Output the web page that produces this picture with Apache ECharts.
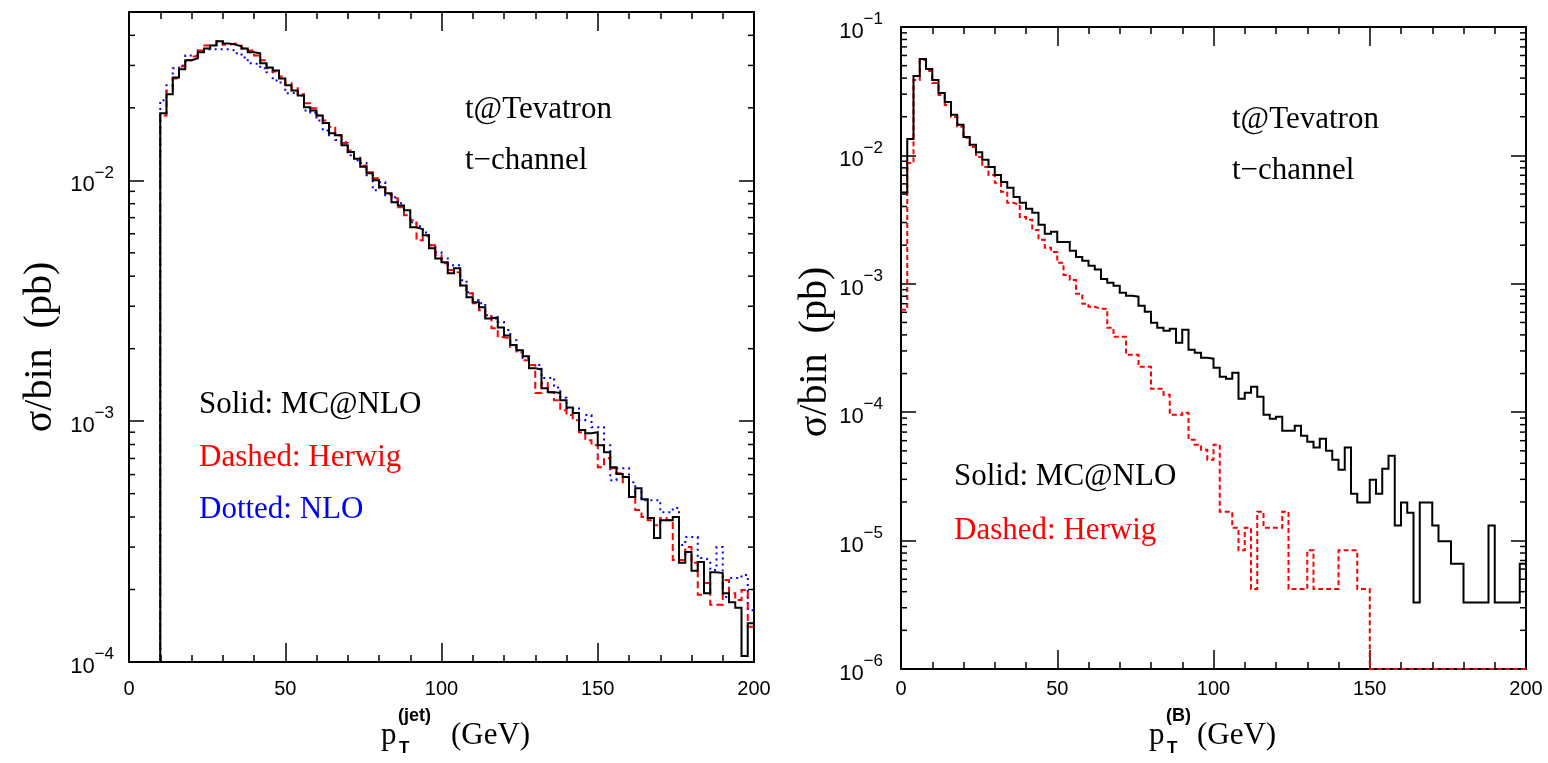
<!DOCTYPE html>
<html>
<head>
<meta charset="utf-8">
<script src="https://cdn.jsdelivr.net/npm/echarts@6/dist/echarts.min.js"></script>
<style>
html,body{margin:0;padding:0;background:#ffffff;}
#main{width:1548px;height:763px;}
</style>
</head>
<body>
<div id="main"></div>
<script>
// ---------- data: sigma per 2 GeV bin (pb) ----------
const BIN_WIDTH = 2;

// Left panel: jet transverse momentum, bins start at 10 GeV
const jetBinStart = 10;
const jetMCatNLO = [
  1.90e-2, 2.28e-2, 2.67e-2, 2.89e-2, 3.15e-2, 3.21e-2, 3.40e-2, 3.53e-2, 3.63e-2, 3.78e-2,
  3.70e-2, 3.66e-2, 3.60e-2, 3.53e-2, 3.40e-2, 3.37e-2, 3.06e-2, 2.94e-2, 2.86e-2, 2.65e-2,
  2.48e-2, 2.36e-2, 2.25e-2, 2.01e-2, 1.95e-2, 1.86e-2, 1.73e-2, 1.57e-2, 1.54e-2, 1.40e-2,
  1.31e-2, 1.23e-2, 1.14e-2, 1.07e-2, 1.00e-2, 9.35e-3, 8.83e-3, 8.11e-3, 7.87e-3, 7.51e-3,
  6.38e-3, 6.27e-3, 5.92e-3, 5.22e-3, 4.74e-3, 4.57e-3, 4.11e-3, 4.31e-3, 3.66e-3, 3.27e-3,
  3.12e-3, 2.97e-3, 2.67e-3, 2.70e-3, 2.45e-3, 2.27e-3, 2.07e-3, 1.97e-3, 1.86e-3, 1.66e-3,
  1.64e-3, 1.37e-3, 1.32e-3, 1.31e-3, 1.22e-3, 1.14e-3, 1.08e-3, 9.18e-4, 8.91e-4, 9.00e-4,
  7.94e-4, 7.43e-4, 6.44e-4, 6.03e-4, 5.86e-4, 4.84e-4, 5.27e-4, 4.74e-4, 3.96e-4, 3.27e-4,
  3.88e-4, 3.88e-4, 4.00e-4, 2.58e-4, 2.86e-4, 2.39e-4, 2.60e-4, 1.93e-4, 2.36e-4, 2.34e-4,
  1.93e-4, 1.77e-4, 1.68e-4, 1.06e-4, 1.45e-4
];
const jetHerwig = [
  1.86e-2, 2.36e-2, 2.65e-2, 2.97e-2, 3.15e-2, 3.27e-2, 3.46e-2, 3.63e-2, 3.66e-2, 3.78e-2,
  3.66e-2, 3.70e-2, 3.63e-2, 3.53e-2, 3.46e-2, 3.30e-2, 3.15e-2, 2.92e-2, 2.83e-2, 2.70e-2,
  2.53e-2, 2.41e-2, 2.28e-2, 2.09e-2, 1.99e-2, 1.86e-2, 1.77e-2, 1.67e-2, 1.54e-2, 1.43e-2,
  1.33e-2, 1.24e-2, 1.15e-2, 1.08e-2, 1.02e-2, 9.44e-3, 8.75e-3, 8.42e-3, 7.73e-3, 7.16e-3,
  6.82e-3, 5.64e-3, 5.86e-3, 5.37e-3, 4.89e-3, 4.53e-3, 4.24e-3, 4.15e-3, 3.66e-3, 3.40e-3,
  3.09e-3, 2.89e-3, 2.73e-3, 2.43e-3, 2.23e-3, 2.21e-3, 2.03e-3, 1.93e-3, 1.79e-3, 1.71e-3,
  1.31e-3, 1.44e-3, 1.32e-3, 1.22e-3, 1.11e-3, 1.06e-3, 1.01e-3, 9.00e-4, 8.34e-4, 7.94e-4,
  6.44e-4, 7.02e-4, 6.38e-4, 6.08e-4, 5.58e-4, 4.84e-4, 4.28e-4, 4.00e-4, 3.88e-4, 3.70e-4,
  3.96e-4, 3.88e-4, 2.65e-4, 2.65e-4, 3.00e-4, 2.58e-4, 1.90e-4, 2.13e-4, 1.73e-4, 1.73e-4,
  2.19e-4, 1.93e-4, 1.81e-4, 1.99e-4, 1.40e-4
];
const jetNLO = [
  2.15e-2, 2.48e-2, 2.92e-2, 3.00e-2, 3.30e-2, 3.30e-2, 3.46e-2, 3.50e-2, 3.50e-2, 3.50e-2,
  3.50e-2, 3.46e-2, 3.37e-2, 3.24e-2, 3.06e-2, 3.03e-2, 2.92e-2, 2.81e-2, 2.60e-2, 2.55e-2,
  2.30e-2, 2.32e-2, 2.25e-2, 1.95e-2, 1.91e-2, 1.77e-2, 1.61e-2, 1.54e-2, 1.47e-2, 1.44e-2,
  1.27e-2, 1.21e-2, 1.18e-2, 1.05e-2, 9.10e-3, 9.81e-3, 8.67e-3, 8.50e-3, 8.03e-3, 7.37e-3,
  6.70e-3, 6.44e-3, 6.08e-3, 5.37e-3, 5.03e-3, 4.74e-3, 4.44e-3, 4.44e-3, 3.85e-3, 3.43e-3,
  3.18e-3, 3.09e-3, 2.75e-3, 2.67e-3, 2.58e-3, 2.39e-3, 2.17e-3, 1.97e-3, 1.83e-3, 1.71e-3,
  1.71e-3, 1.51e-3, 1.52e-3, 1.38e-3, 1.25e-3, 1.13e-3, 1.13e-3, 1.01e-3, 1.06e-3, 9.44e-4,
  9.44e-4, 7.94e-4, 5.69e-4, 6.38e-4, 6.38e-4, 5.58e-4, 5.07e-4, 4.70e-4, 4.70e-4, 4.70e-4,
  4.19e-4, 4.19e-4, 4.36e-4, 3.06e-4, 3.30e-4, 3.30e-4, 2.70e-4, 2.65e-4, 2.41e-4, 3.00e-4,
  1.86e-4, 2.23e-4, 2.23e-4, 2.30e-4, 1.64e-4
];

// Right panel: B-hadron transverse momentum, bins start at 0 GeV
const bBinStart = 0;
const bMCatNLO = [
  5.13e-3, 1.34e-2, 4.16e-2, 5.64e-2, 4.71e-2, 3.87e-2, 3.06e-2, 2.61e-2, 2.07e-2, 1.73e-2,
  1.39e-2, 1.21e-2, 1.06e-2, 9.23e-3, 8.14e-3, 7.05e-3, 6.22e-3, 5.59e-3, 4.75e-3, 4.27e-3,
  3.84e-3, 3.57e-3, 2.88e-3, 2.45e-3, 2.54e-3, 2.12e-3, 2.12e-3, 1.81e-3, 1.62e-3, 1.51e-3,
  1.38e-3, 1.29e-3, 1.09e-3, 1.02e-3, 9.65e-4, 8.51e-4, 8.06e-4, 7.93e-4, 6.74e-4, 6.05e-4,
  4.97e-4, 4.54e-4, 4.31e-4, 4.47e-4, 3.47e-4, 4.39e-4, 3.07e-4, 2.90e-4, 2.66e-4, 2.61e-4,
  2.22e-4, 1.89e-4, 1.82e-4, 2.03e-4, 1.27e-4, 1.42e-4, 1.58e-4, 1.32e-4, 9.56e-5, 8.90e-5,
  9.23e-5, 7.18e-5, 7.18e-5, 7.85e-5, 6.56e-5, 5.89e-5, 5.30e-5, 6.22e-5, 5.02e-5, 4.27e-5,
  3.57e-5, 5.30e-5, 2.32e-5, 1.98e-5, 1.98e-5, 2.98e-5, 2.32e-5, 3.63e-5, 4.58e-5, 1.31e-5,
  1.98e-5, 1.65e-5, 3.3e-6, 1.98e-5, 1.98e-5, 1.31e-5, 9.9e-6, 9.9e-6, 6.6e-6, 6.6e-6,
  3.3e-6, 3.3e-6, 3.3e-6, 3.3e-6, 1.31e-5, 3.3e-6, 3.3e-6, 3.3e-6, 3.3e-6, 6.6e-6
];
const bHerwig = [
  6.28e-4, 8.74e-3, 3.87e-2, 5.54e-2, 4.55e-2, 3.67e-2, 2.96e-2, 2.47e-2, 1.99e-2, 1.67e-2,
  1.37e-2, 1.16e-2, 9.73e-3, 8.14e-3, 7.05e-3, 6.11e-3, 5.20e-3, 4.27e-3, 4.12e-3, 3.32e-3,
  3.15e-3, 2.63e-3, 2.20e-3, 1.91e-3, 1.77e-3, 1.46e-3, 1.17e-3, 1.07e-3, 8.36e-4, 6.99e-4,
  6.62e-4, 6.39e-4, 6.39e-4, 4.54e-4, 3.87e-4, 3.87e-4, 2.80e-4, 2.80e-4, 2.26e-4, 2.26e-4,
  1.52e-4, 1.52e-4, 1.37e-4, 9.56e-5, 9.56e-5, 9.91e-5, 6.11e-5, 5.59e-5, 5.11e-5, 4.27e-5,
  5.59e-5, 1.68e-5, 1.68e-5, 1.26e-5, 8.4e-6, 1.26e-5, 4.2e-6, 1.68e-5, 1.26e-5, 1.26e-5,
  1.26e-5, 1.68e-5, 4.2e-6, 4.2e-6, 4.2e-6, 8.4e-6, 4.2e-6, 4.2e-6, 4.2e-6, 4.2e-6,
  8.4e-6, 8.4e-6, 8.4e-6, 4.2e-6, 4.2e-6, 0, 0, 0, 0, 0,
  0, 0, 0, 0, 0, 0, 0, 0, 0, 0,
  0, 0, 0, 0, 0, 0, 0, 0, 0, 0
];

// axis ranges and tick labels
const xRange = [0, 200];
const xTickStep = 50;
const jetYRange = [1e-4, 5e-2];
const bYRange = [1e-6, 1e-1];

// ---------- helpers ----------
// histogram outline: horizontal top of every bin joined by vertical edges
function histogramPath(start, values, floor, dropAtStart) {
  const pts = [];
  if (dropAtStart) pts.push([start, floor]);
  values.forEach(function (v, i) {
    const lo = start + i * BIN_WIDTH;
    const y = Math.max(v, floor);
    pts.push([lo, y], [lo + BIN_WIDTH, y]);
  });
  return pts;
}

// logarithmic minor tick values 2..9 x 10^n inside a range
function logMinorTicks(range) {
  const out = [];
  const e0 = Math.floor(Math.log10(range[0]));
  const e1 = Math.ceil(Math.log10(range[1]));
  for (let e = e0; e < e1; e++) {
    for (let m = 2; m <= 9; m++) {
      const v = m * Math.pow(10, e);
      if (v > range[0] * 1.0001 && v < range[1] * 0.9999) out.push([0, v]);
    }
  }
  return out;
}

function powerLabel(v) {
  const e = Math.round(Math.log10(v));
  if (Math.abs(v / Math.pow(10, e) - 1) > 1e-6) return '';
  return '{b|10}{s|' + (e < 0 ? '\u2212' : '') + Math.abs(e) + '}';
}

const FRAME = '#000000';
const SANS = 'Liberation Sans';
const SERIF = 'Liberation Serif';

function xAxisDef(grid, pos, showLabels, margin) {
  return {
    type: 'value', gridIndex: grid, position: pos,
    min: xRange[0], max: xRange[1], interval: xTickStep,
    axisLine: { show: true, onZero: false, lineStyle: { color: FRAME, width: 2 } },
    axisTick: { show: true, inside: true, length: 19, lineStyle: { color: FRAME, width: 1.5 } },
    minorTick: { show: true, splitNumber: 5, length: 7, lineStyle: { color: FRAME, width: 1.5 } },
    splitLine: { show: false },
    axisLabel: {
      show: showLabels, margin: margin, color: '#000',
      fontFamily: SANS, fontSize: 20
    }
  };
}

function yAxisDef(grid, pos, range, showLabels, margin) {
  return {
    type: 'log', logBase: 10, gridIndex: grid, position: pos,
    min: range[0], max: range[1],
    axisLine: { show: true, onZero: false, lineStyle: { color: FRAME, width: 2 } },
    axisTick: { show: true, inside: true, length: 15, lineStyle: { color: FRAME, width: 1.5 } },
    minorTick: { show: false },
    splitLine: { show: false },
    axisLabel: {
      show: showLabels, margin: margin, color: '#000',
      formatter: powerLabel,
      rich: {
        b: { fontFamily: SANS, fontSize: 22, color: '#000', lineHeight: 32, verticalAlign: 'bottom' },
        s: { fontFamily: SANS, fontSize: 17, color: '#000', lineHeight: 17, verticalAlign: 'top' }
      }
    }
  };
}

function minorTickSeries(xi, yi, range) {
  return {
    type: 'custom', xAxisIndex: xi, yAxisIndex: yi, silent: true, z: 5,
    data: logMinorTicks(range),
    renderItem: function (params, api) {
      const v = api.value(1);
      const a = api.coord([xRange[0], v]);
      const b = api.coord([xRange[1], v]);
      const len = 6;
      return {
        type: 'group',
        children: [
          { type: 'line', shape: { x1: a[0], y1: a[1], x2: a[0] + len, y2: a[1] },
            style: { stroke: FRAME, lineWidth: 1.5 } },
          { type: 'line', shape: { x1: b[0] - len, y1: b[1], x2: b[0], y2: b[1] },
            style: { stroke: FRAME, lineWidth: 1.5 } }
        ]
      };
    }
  };
}

function histSeries(name, xi, yi, pts, color, dash, width) {
  return {
    name: name, type: 'line', xAxisIndex: xi, yAxisIndex: yi,
    data: pts, showSymbol: false, symbol: 'none', clip: false,
    lineStyle: { color: color, width: width, type: dash, cap: 'butt', join: 'miter' },
    z: 3
  };
}

function txt(x, y, text, font, color, align, rot) {
  return {
    type: 'text', x: x, y: y, rotation: rot || 0, silent: true,
    style: {
      text: text, font: font, fill: color || '#000',
      align: align || 'left', textAlign: align || 'left',
      verticalAlign: 'middle', textVerticalAlign: 'middle'
    }
  };
}

// ---------- chart ----------
const chart = echarts.init(document.getElementById('main'));

const textFont = '31px ' + SERIF;
const titleFont = '40px ' + SERIF;
const xTitleFont = '31px ' + SERIF;
const supFont = 'bold 18px ' + SANS;
const subFont = 'bold 17px ' + SANS;

chart.setOption({
  animation: false,
  backgroundColor: '#ffffff',
  grid: [
    { left: 129, top: 12, width: 625, height: 650 },
    { left: 901, top: 27, width: 625, height: 642 }
  ],
  xAxis: [
    xAxisDef(0, 'bottom', true, 17),
    xAxisDef(0, 'top', false, 8),
    xAxisDef(1, 'bottom', true, 10),
    xAxisDef(1, 'top', false, 8)
  ],
  yAxis: [
    yAxisDef(0, 'left', jetYRange, true, 15),
    yAxisDef(0, 'right', jetYRange, false, 8),
    yAxisDef(1, 'left', bYRange, true, 18),
    yAxisDef(1, 'right', bYRange, false, 8)
  ],
  series: [
    histSeries('NLO', 0, 0, histogramPath(jetBinStart, jetNLO, jetYRange[0], true), '#0000ff', [2, 4], 2),
    histSeries('Herwig', 0, 0, histogramPath(jetBinStart, jetHerwig, jetYRange[0], true), '#ff0000', [7, 4], 2),
    histSeries('MC@NLO', 0, 0, histogramPath(jetBinStart, jetMCatNLO, jetYRange[0], true), '#000000', 'solid', 2),
    histSeries('Herwig B', 2, 2, histogramPath(bBinStart, bHerwig, bYRange[0], false), '#ff0000', [5, 3], 2),
    histSeries('MC@NLO B', 2, 2, histogramPath(bBinStart, bMCatNLO, bYRange[0], false), '#000000', 'solid', 2),
    minorTickSeries(0, 0, jetYRange),
    minorTickSeries(2, 2, bYRange)
  ],
  graphic: [
    // left panel annotations
    txt(465, 110, 't@Tevatron', textFont, '#000'),
    txt(465, 161, 't\u2212channel', textFont, '#000'),
    txt(199, 405, 'Solid: MC@NLO', textFont, '#000'),
    txt(199, 458, 'Dashed: Herwig', textFont, '#ff0000'),
    txt(199, 510, 'Dotted: NLO', textFont, '#0000ff'),
    // right panel annotations
    txt(1232, 120, 't@Tevatron', textFont, '#000'),
    txt(1232, 171, 't\u2212channel', textFont, '#000'),
    txt(954, 477, 'Solid: MC@NLO', textFont, '#000'),
    txt(954, 531, 'Dashed: Herwig', textFont, '#ff0000'),
    // y titles
    txt(40, 347, '\u03c3/bin  (pb)', titleFont, '#000', 'center', Math.PI / 2),
    txt(815, 352, '\u03c3/bin  (pb)', titleFont, '#000', 'center', Math.PI / 2),
    // x titles
    txt(381, 736, 'p', xTitleFont, '#000'),
    txt(398, 716, '(jet)', supFont, '#000'),
    txt(399, 748, 'T', subFont, '#000'),
    txt(451, 736, '(GeV)', xTitleFont, '#000'),
    txt(1149, 736, 'p', xTitleFont, '#000'),
    txt(1166, 716, '(B)', supFont, '#000'),
    txt(1167, 748, 'T', subFont, '#000'),
    txt(1197, 736, '(GeV)', xTitleFont, '#000')
  ]
});
</script>
</body>
</html>
